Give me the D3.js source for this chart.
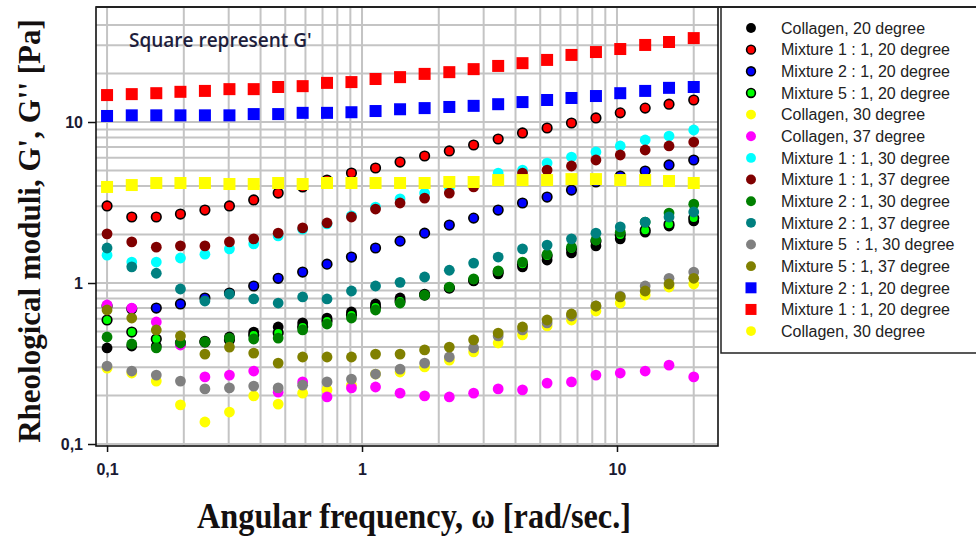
<!DOCTYPE html>
<html>
<head>
<meta charset="utf-8">
<script src="https://cdn.jsdelivr.net/npm/d3@7"></script>
<style>
  html, body { margin: 0; padding: 0; background: #fff; }
  svg { display: block; }
</style>
</head>
<body>
<svg id="chart" width="976" height="540"></svg>
<script>
// angular frequency sweep, rad/sec
const freq = [0.1, 0.125, 0.156, 0.194, 0.242, 0.302, 0.376, 0.469, 0.585, 0.729, 0.909, 1.13, 1.41,
  1.76, 2.2, 2.74, 3.42, 4.26, 5.32, 6.63, 8.27, 10.3, 12.9, 16.0, 20.0];

// G'' (circles)
const collagen20 = [0.395, 0.406, 0.406, 0.418, 0.436, 0.462, 0.496, 0.533, 0.565, 0.606, 0.661, 0.741, 0.807,
  0.854, 0.931, 1.03, 1.14, 1.26, 1.39, 1.54, 1.70, 1.88, 2.07, 2.26, 2.43];
const mix11At20 = [3.01, 2.57, 2.57, 2.68, 2.84, 3.01, 3.28, 3.62, 3.95, 4.36, 4.82, 5.18, 5.64,
  6.15, 6.61, 7.20, 7.84, 8.55, 9.18, 9.86, 10.6, 11.4, 12.2, 12.9, 13.7];
const mix21At20 = [0.720, 0.690, 0.699, 0.741, 0.807, 0.867, 0.958, 1.07, 1.17, 1.31, 1.45, 1.65, 1.82,
  2.04, 2.29, 2.53, 2.84, 3.14, 3.42, 3.78, 4.24, 4.62, 4.96, 5.41, 5.81];
const mix51At20 = [0.589, 0.496, 0.449, 0.424, 0.430, 0.443, 0.476, 0.489, 0.533, 0.581, 0.633, 0.710, 0.773,
  0.842, 0.931, 1.04, 1.17, 1.31, 1.47, 1.63, 1.82, 1.99, 2.13, 2.32, 2.53];
const collagen30 = [0.296, 0.276, 0.246, 0.175, 0.137, 0.158, 0.199, 0.177, 0.207, 0.217, 0.232, 0.272, 0.280,
  0.301, 0.332, 0.373, 0.424, 0.476, 0.541, 0.589, 0.670, 0.751, 0.842, 0.944, 0.986];
const collagen37 = [0.730, 0.699, 0.573, 0.412, 0.261, 0.268, 0.284, 0.210, 0.243, 0.196, 0.223, 0.226, 0.207,
  0.199, 0.196, 0.207, 0.220, 0.217, 0.239, 0.243, 0.268, 0.276, 0.284, 0.309, 0.261];
const mix11At30 = [1.49, 1.35, 1.35, 1.43, 1.51, 1.63, 1.75, 1.96, 2.16, 2.33, 2.61, 2.96, 3.33,
  3.62, 3.89, 4.24, 4.82, 5.03, 5.56, 6.06, 6.51, 7.10, 7.73, 8.18, 8.92];
const mix11At37 = [2.02, 1.80, 1.67, 1.70, 1.70, 1.80, 1.88, 2.04, 2.20, 2.36, 2.57, 2.88, 3.14,
  3.37, 3.62, 3.95, 4.36, 4.82, 5.03, 5.33, 5.81, 6.24, 6.70, 7.10, 7.51];
const mix21At30 = [0.462, 0.418, 0.395, 0.424, 0.430, 0.455, 0.449, 0.455, 0.511, 0.556, 0.606, 0.680, 0.751,
  0.842, 0.944, 1.06, 1.19, 1.35, 1.51, 1.67, 1.85, 2.07, 2.39, 2.72, 3.09];
const mix21At37 = [1.65, 1.26, 1.15, 0.918, 0.773, 0.854, 0.796, 0.751, 0.819, 0.796, 0.892, 0.958, 1.01,
  1.09, 1.20, 1.33, 1.45, 1.63, 1.72, 1.88, 2.04, 2.23, 2.39, 2.57, 2.76];
const mix51At30 = [0.305, 0.284, 0.268, 0.246, 0.220, 0.223, 0.229, 0.223, 0.232, 0.243, 0.253, 0.272, 0.292,
  0.318, 0.347, 0.395, 0.469, 0.511, 0.565, 0.624, 0.720, 0.830, 0.958, 1.07, 1.17];
const mix51At37 = [0.680, 0.606, 0.511, 0.469, 0.362, 0.400, 0.367, 0.318, 0.347, 0.347, 0.347, 0.362, 0.362,
  0.384, 0.400, 0.443, 0.489, 0.533, 0.589, 0.642, 0.720, 0.819, 0.892, 0.986, 1.07];

// G' (squares)
const mix21At20G = [10.9, 11.0, 11.0, 11.0, 11.0, 11.0, 11.2, 11.2, 11.4, 11.4, 11.5, 11.7, 12.0,
  12.2, 12.4, 12.6, 12.9, 13.3, 13.7, 14.1, 14.5, 15.1, 15.6, 16.3, 16.5];
const mix11At20G = [14.7, 14.9, 15.1, 15.4, 15.6, 16.0, 16.0, 16.5, 16.7, 17.5, 17.7, 18.5, 19.0,
  19.9, 20.4, 21.3, 22.3, 23.2, 24.3, 26.1, 27.2, 28.4, 30.1, 31.4, 33.2];
const collagen30G = [3.95, 4.06, 4.18, 4.18, 4.18, 4.12, 4.12, 4.18, 4.12, 4.18, 4.18, 4.18, 4.18,
  4.18, 4.24, 4.24, 4.36, 4.36, 4.36, 4.42, 4.42, 4.36, 4.36, 4.30, 4.18];

const seriesNames = [
  'Collagen, 20 degree', 'Mixture 1 : 1, 20 degree', 'Mixture 2 : 1, 20 degree', 'Mixture 5 : 1, 20 degree',
  'Collagen, 30 degree', 'Collagen, 37 degree', 'Mixture 1 : 1, 30 degree', 'Mixture 1 : 1, 37 degree',
  'Mixture 2 : 1, 30 degree', 'Mixture 2 : 1, 37 degree', 'Mixture 5  : 1, 30 degree', 'Mixture 5 : 1, 37 degree',
  'Mixture 2 : 1, 20 degree', 'Mixture 1 : 1, 20 degree', 'Collagen, 30 degree'
];

const xTickValues = [0.1, 1, 10];
const xTickLabels = ['0,1', '1', '10'];
const yTickValues = [0.1, 1, 10];
const yTickLabels = ['0,1', '1', '10'];

// style table, same order as seriesNames
const series = [
  { values: collagen20, fill: '#000000', stroke: null, shape: 'circle' },
  { values: mix11At20, fill: '#ff0000', stroke: '#000', shape: 'circle' },
  { values: mix21At20, fill: '#0000ff', stroke: '#000', shape: 'circle' },
  { values: mix51At20, fill: '#00ff00', stroke: '#000', shape: 'circle' },
  { values: collagen30, fill: '#ffff00', stroke: null, shape: 'circle' },
  { values: collagen37, fill: '#ff00ff', stroke: null, shape: 'circle' },
  { values: mix11At30, fill: '#00ffff', stroke: null, shape: 'circle' },
  { values: mix11At37, fill: '#800000', stroke: null, shape: 'circle' },
  { values: mix21At30, fill: '#008000', stroke: null, shape: 'circle' },
  { values: mix21At37, fill: '#008080', stroke: null, shape: 'circle' },
  { values: mix51At30, fill: '#808080', stroke: null, shape: 'circle' },
  { values: mix51At37, fill: '#808000', stroke: null, shape: 'circle' },
  { values: mix21At20G, fill: '#0000ff', stroke: null, shape: 'square' },
  { values: mix11At20G, fill: '#ff0000', stroke: null, shape: 'square' },
  { values: collagen30G, fill: '#ffff00', stroke: null, shape: 'square', legendShape: 'circle' }
].map((s, i) => ({ ...s, name: seriesNames[i] }));

const plot = { left: 96, top: 7, right: 718, bottom: 446 };

const svg = d3.select('#chart');

const x = d3.scaleLog().domain([0.0905, 24.9]).range([plot.left, plot.right]);
const y = d3.scaleLog().domain([0.0972, 51.8]).range([plot.bottom, plot.top]);

const drawMarker = (g, shape, fill, stroke, size) => {
  if (shape === 'square') {
    g.append('rect')
      .attr('x', -size / 2)
      .attr('y', -size / 2)
      .attr('width', size)
      .attr('height', size)
      .attr('fill', fill);
  } else {
    g.append('circle')
      .attr('r', stroke ? size * 0.4 : size * 0.45)
      .attr('fill', fill)
      .attr('stroke', stroke || 'none')
      .attr('stroke-width', 1.6);
  }
};

// grid
const gridX = x.ticks().filter((v) => v >= 0.1 && v <= 20);
const gridY = y.ticks().filter((v) => v >= 0.1 && v <= 40);

svg.append('g')
  .selectAll('line')
  .data(gridX)
  .enter()
  .append('line')
  .attr('x1', (d) => x(d))
  .attr('x2', (d) => x(d))
  .attr('y1', plot.top)
  .attr('y2', plot.bottom)
  .attr('stroke', '#c4c4c4')
  .attr('stroke-width', 2);

svg.append('g')
  .selectAll('line')
  .data(gridY)
  .enter()
  .append('line')
  .attr('x1', plot.left)
  .attr('x2', plot.right)
  .attr('y1', (d) => y(d))
  .attr('y2', (d) => y(d))
  .attr('stroke', '#c4c4c4')
  .attr('stroke-width', 2);

// data points
series.forEach((s) => {
  const g = svg.append('g');
  s.values.forEach((v, i) => {
    const m = g.append('g').attr('transform', `translate(${x(freq[i])},${y(v)})`);
    drawMarker(m, s.shape, s.fill, s.stroke, 12);
  });
});

// frame
svg.append('rect')
  .attr('x', plot.left)
  .attr('y', plot.top)
  .attr('width', plot.right - plot.left)
  .attr('height', plot.bottom - plot.top)
  .attr('fill', 'none')
  .attr('stroke', '#111')
  .attr('stroke-width', 1.6);

// axes (major ticks only, outward)
const xAxis = d3.axisBottom(x)
  .tickValues(xTickValues)
  .tickFormat((d, i) => xTickLabels[i])
  .tickSize(6)
  .tickPadding(12);
const yAxis = d3.axisLeft(y)
  .tickValues(yTickValues)
  .tickFormat((d, i) => yTickLabels[i])
  .tickSize(8)
  .tickPadding(5);

const gx = svg.append('g').attr('transform', `translate(0,${plot.bottom})`).call(xAxis);
const gy = svg.append('g').attr('transform', `translate(${plot.left},0)`).call(yAxis);
[gx, gy].forEach((g) => {
  g.select('.domain').remove();
  g.selectAll('.tick line').attr('stroke', '#111').attr('stroke-width', 1.5);
  g.selectAll('.tick text')
    .attr('fill', '#1a1a33')
    .style('font-family', '"Liberation Sans", Arial, sans-serif')
    .style('font-weight', 'bold')
    .style('font-size', '16px');
});

// axis titles
svg.append('text')
  .attr('x', 414)
  .attr('y', 528)
  .attr('text-anchor', 'middle')
  .attr('textLength', 434)
  .attr('lengthAdjust', 'spacingAndGlyphs')
  .style('font-family', '"Liberation Serif", "Times New Roman", serif')
  .style('font-weight', 'bold')
  .style('font-size', '36px')
  .attr('fill', '#141010')
  .text('Angular frequency, \u03c9 [rad/sec.]');

svg.append('g')
  .attr('transform', 'translate(40,231) rotate(-90)')
  .append('text')
  .attr('text-anchor', 'middle')
  .style('font-family', '"Liberation Serif", "Times New Roman", serif')
  .style('font-weight', 'bold')
  .style('font-size', '31px')
  .attr('fill', '#141010')
  .text('Rheological moduli, G\', G\'\' [Pa]');

// annotation
svg.append('text')
  .attr('x', 129)
  .attr('y', 47)
  .style('font-family', '"Open Sans", sans-serif')
  .style('font-weight', 600)
  .style('font-size', '19px')
  .attr('fill', '#1e1e3c')
  .text('Square represent G\'');

// legend
const legend = { left: 721, top: 7, bottom: 353, markerX: 751, textX: 781, rowY: 28, rowStep: 21.65 };

svg.append('path')
  .attr('d', `M976,${legend.top}H${legend.left}V${legend.bottom}H976`)
  .attr('fill', 'none')
  .attr('stroke', '#222')
  .attr('stroke-width', 1.5);
svg.append('line')
  .attr('x1', plot.left)
  .attr('x2', 976)
  .attr('y1', plot.top)
  .attr('y2', plot.top)
  .attr('stroke', '#222')
  .attr('stroke-width', 2);

const rows = svg.append('g')
  .selectAll('g')
  .data(series)
  .enter()
  .append('g')
  .attr('transform', (d, i) => `translate(0,${legend.rowY + i * legend.rowStep})`);

rows.each(function (d) {
  const m = d3.select(this).append('g').attr('transform', `translate(${legend.markerX},0)`);
  drawMarker(m, d.legendShape || d.shape, d.fill, d.stroke, 11);
});

rows.append('text')
  .attr('x', legend.textX)
  .attr('dy', '0.36em')
  .style('font-family', '"Liberation Sans", Arial, sans-serif')
  .style('font-size', '16px')
  .style('white-space', 'pre')
  .attr('fill', '#222')
  .text((d) => d.name);
</script>
</body>
</html>
